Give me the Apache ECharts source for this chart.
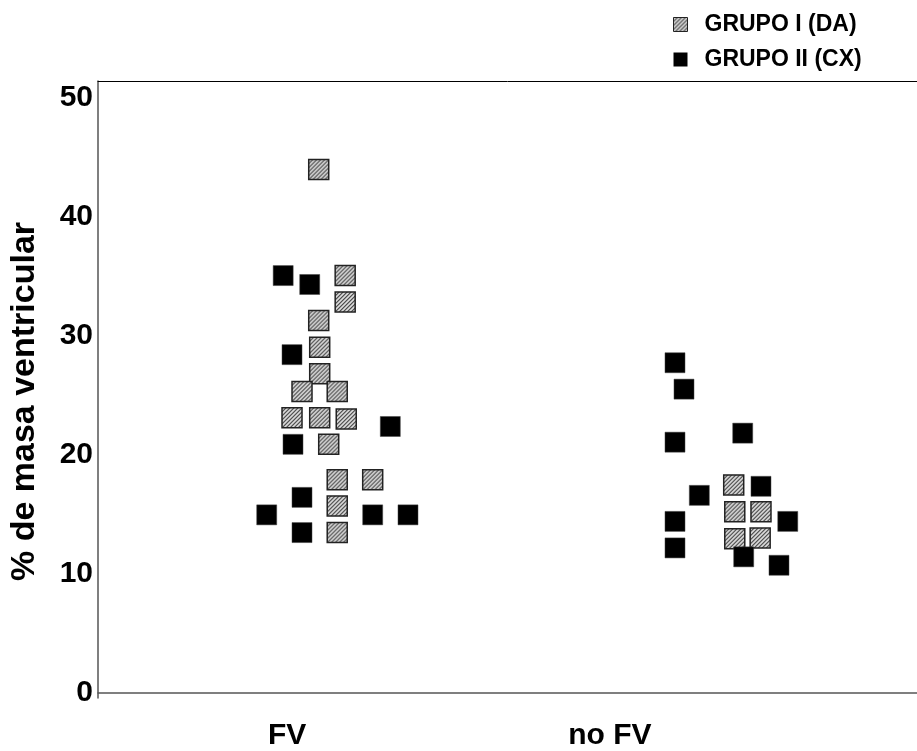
<!DOCTYPE html>
<html>
<head>
<meta charset="utf-8">
<script src="https://cdn.jsdelivr.net/npm/echarts@6/dist/echarts.min.js"></script>
<style>
  html, body { margin: 0; padding: 0; background: #fff; }
  #chart { width: 917px; height: 751px; }
</style>
</head>
<body>
<div id="chart"></div>
<script>
// Ventricular mass (%) per patient, split by group and by FV outcome.
// x = horizontal spread of each square within its column, y = % de masa ventricular
const daFV_x = [26.95, 30.18, 30.18, 26.95, 27.07, 27.07, 24.91, 29.21, 23.69, 27.07, 30.31, 28.17, 29.21, 33.54, 29.21, 29.21];
const daFV_y = [43.95, 35.04, 32.82, 31.26, 29.02, 26.79, 25.30, 25.30, 23.08, 23.08, 22.98, 20.85, 17.88, 17.88, 15.67, 13.43];

const cxFV_x = [22.61, 25.85, 23.69, 35.69, 23.81, 24.91, 20.60, 33.54, 37.85, 24.91];
const cxFV_y = [35.04, 34.29, 28.39, 22.35, 20.85, 16.39, 14.92, 14.92, 14.92, 13.43];

const daNoFV_x = [77.62, 77.75, 80.95, 77.75, 80.85];
const daNoFV_y = [17.44, 15.19, 15.19, 12.90, 12.97];

const cxNoFV_x = [70.45, 71.55, 78.72, 70.45, 80.95, 73.42, 70.45, 84.22, 70.45, 78.84, 83.15];
const cxNoFV_y = [27.71, 25.49, 21.79, 21.03, 17.32, 16.56, 14.37, 14.37, 12.14, 11.39, 10.68];

const groupNames = ['GRUPO I (DA)', 'GRUPO II (CX)'];
const columnLabels = ['FV', 'no FV'];
const columnLabelAt = [23.1, 62.5];
const yTicks = [0, 10, 20, 30, 40, 50];

const SQUARE = 20;

function pairs(xs, ys) {
  return xs.map((x, i) => [x, ys[i]]);
}

// Fine diagonal hatch used for group I squares.
// Scatter symbols are drawn on a unit path scaled by size/2, so the
// pattern is shrunk by the same factor to keep the hatch crisp.
function hatchPattern(scale) {
  const c = document.createElement('canvas');
  c.width = 4; c.height = 4;
  const g = c.getContext('2d');
  g.fillStyle = '#e6e6e6';
  g.fillRect(0, 0, 4, 4);
  g.strokeStyle = '#303030';
  g.lineWidth = 1.1;
  g.beginPath();
  g.moveTo(-1, 1); g.lineTo(1, -1);
  g.moveTo(0, 4); g.lineTo(4, 0);
  g.moveTo(3, 5); g.lineTo(5, 3);
  g.stroke();
  return { image: c, repeat: 'repeat', scaleX: scale, scaleY: scale };
}

const font = 'Liberation Sans, Arial, sans-serif';
const chart = echarts.init(document.getElementById('chart'), null, { renderer: 'canvas' });

chart.setOption({
  animation: false,
  backgroundColor: '#fff',
  grid: { left: 98, right: 0, top: 81, bottom: 53, containLabel: false },
  legend: {
    orient: 'vertical',
    left: 668,
    top: 8,
    itemWidth: 14,
    itemHeight: 14,
    itemGap: 12,
    icon: 'rect',
    data: [
      { name: groupNames[0], itemStyle: { color: hatchPattern(1), borderColor: '#222', borderWidth: 1 } },
      { name: groupNames[1], itemStyle: { color: '#000', borderWidth: 0 } }
    ],
    textStyle: { fontFamily: font, fontWeight: 'bold', fontSize: 23, color: '#000', padding: [0, 0, 0, 12] }
  },
  xAxis: [
    {
      type: 'value',
      min: 0,
      max: 100,
      position: 'bottom',
      splitLine: { show: false },
      axisTick: { show: false },
      axisLine: { show: true, lineStyle: { color: '#555', width: 1.5 } },
      axisLabel: {
        customValues: columnLabelAt,
        formatter: function (v) {
          const i = columnLabelAt.indexOf(v);
          return i >= 0 ? columnLabels[i] : '';
        },
        margin: 23,
        fontFamily: font,
        fontWeight: 'bold',
        fontSize: 30,
        color: '#000'
      }
    },
    {
      type: 'value',
      min: 0,
      max: 100,
      position: 'top',
      splitLine: { show: false },
      axisTick: { show: false },
      axisLabel: { show: false },
      axisLine: { show: true, lineStyle: { color: '#000', width: 1 } }
    }
  ],
  yAxis: {
    type: 'value',
    min: -0.48,
    max: 51.4,
    splitLine: { show: false },
    axisTick: { show: false },
    axisLine: { show: true, lineStyle: { color: '#555', width: 1.5 } },
    axisLabel: {
      customValues: yTicks,
      formatter: function (v) { return String(Math.round(v)); },
      margin: 5,
      fontFamily: font,
      fontWeight: 'bold',
      fontSize: 30,
      color: '#000'
    },
    name: '% de masa ventricular',
    nameLocation: 'middle',
    nameRotate: 90,
    nameGap: 56,
    nameTextStyle: {
      fontFamily: font,
      fontWeight: 'bold',
      fontSize: 34,
      color: '#000',
      padding: [0, 24, 0, 0]
    }
  },
  series: [
    {
      name: groupNames[0],
      type: 'scatter',
      xAxisIndex: 0,
      symbol: 'rect',
      symbolSize: SQUARE,
      itemStyle: { color: hatchPattern(2 / SQUARE), borderColor: '#222', borderWidth: 1.5, opacity: 1 },
      data: pairs(daFV_x, daFV_y).concat(pairs(daNoFV_x, daNoFV_y))
    },
    {
      name: groupNames[1],
      type: 'scatter',
      xAxisIndex: 0,
      symbol: 'rect',
      symbolSize: SQUARE,
      itemStyle: { color: '#000', borderColor: '#444', borderWidth: 0.5, opacity: 1 },
      data: pairs(cxFV_x, cxFV_y).concat(pairs(cxNoFV_x, cxNoFV_y))
    }
  ]
});
</script>
</body>
</html>
